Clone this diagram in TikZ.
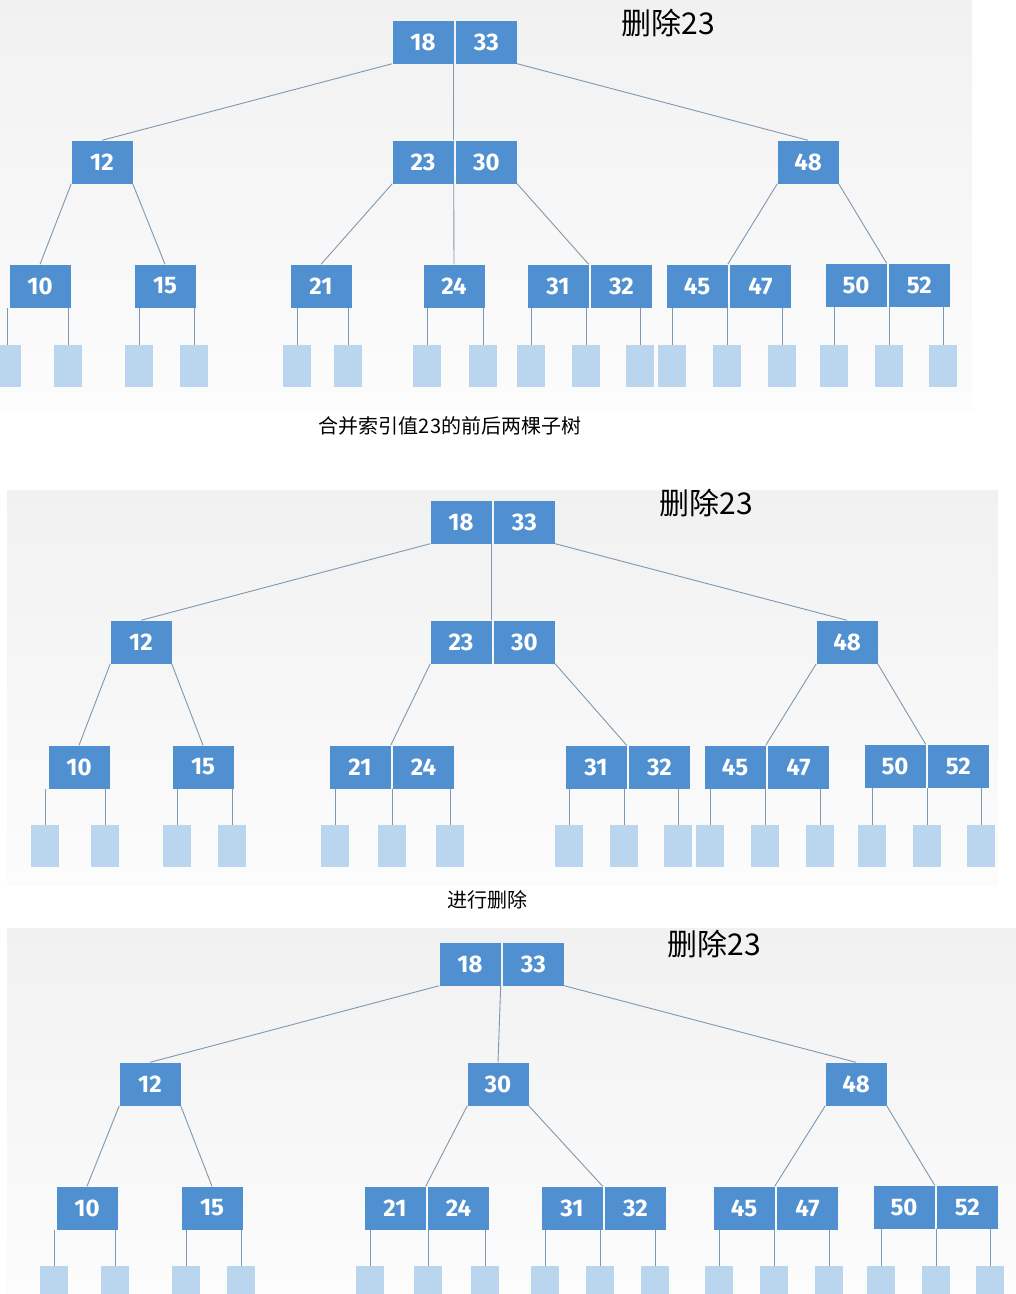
\documentclass[tikz,border=0pt]{standalone}
\usepackage{fontspec}
\setmainfont{Carlito}
\newfontfamily\cjk{Noto Sans CJK SC}
\newfontfamily\keyfont{Fira Sans}
\usepackage{xcolor}
\usepackage{tikz}
\usetikzlibrary{positioning}

\definecolor{keyblue}{RGB}{80,144,208}
\definecolor{leafblue}{RGB}{186,213,238}
\definecolor{linkgray}{RGB}{125,152,176}
\definecolor{paneltop}{RGB}{241,241,241}
\definecolor{panelbot}{RGB}{252,252,252}

\begin{document}
\begin{tikzpicture}[x=1pt,y=-1pt,
		keybox/.style={fill=keyblue,text=white,font=\keyfont\fontsize{24}{24}\bfseries,
			minimum width=61pt,minimum height=43pt,inner sep=0pt},
		leafbox/.style={fill=leafblue,minimum width=28pt,minimum height=42pt,inner sep=0pt},
		link/.style={draw=linkgray,line width=0.9pt},
		title/.style={font=\cjk\fontsize{30}{30}\selectfont},
		note/.style={font=\cjk\fontsize{20}{20}\selectfont}]
		\useasboundingbox (0,0) rectangle (1016,1294);
		\clip (0,0) rectangle (1016,1294);
		\fill[white] (0,0) rectangle (1016,1294);
		% the three panels
		\shade[top color=paneltop,bottom color=panelbot] (0,0) rectangle (972,410);
		\shade[top color=paneltop,bottom color=panelbot] (7,490) rectangle (998,885);
		\shade[top color=paneltop,bottom color=panelbot] (7,928) rectangle (1016,1294);
		\node[title] (t1) at (668,23) {删除23};
		\node[title] (t2) at (706,503) {删除23};
		\node[title] (t3) at (714,944) {删除23};
		\node[note] (n1) at (450,426) {合并索引值23的前后两棵子树};
		\node[note] (n2) at (487,900) {进行删除};

		% panel 1
		\node[keybox] (a18) at (423,42) {18};
		\node[keybox,right=2pt of a18] (a33) {33};
		\node[keybox] (a12) at (102,162) {12};
		\node[keybox] (a23) at (423,162) {23};
		\node[keybox,right=2pt of a23] (a30) {30};
		\node[keybox] (a48) at (808,162) {48};
		\node[keybox] (a10) at (40,286) {10};
		\node[keybox] (a15) at (165,286) {15};
		\node[keybox] (a21) at (321,286) {21};
		\node[keybox] (a24) at (454,286) {24};
		\node[keybox] (a31) at (558,286) {31};
		\node[keybox,right=2pt of a31] (a32) {32};
		\node[keybox] (a45) at (697,286) {45};
		\node[keybox,right=2pt of a45] (a47) {47};
		\node[keybox] (a50) at (856,285) {50};
		\node[keybox,right=2pt of a50] (a52) {52};
		\draw[link] (a18.south west) -- (a12.north);
		\draw[link] (a18.south east) -- (a23.north east);
		\draw[link] (a33.south east) -- (a48.north);
		\draw[link] (a12.south west) -- (a10.north);
		\draw[link] (a12.south east) -- (a15.north);
		\draw[link] (a23.south west) -- (a21.north);
		\draw[link] (a23.south east) -- (a24.north);
		\draw[link] (a30.south east) -- (a31.north east);
		\draw[link] (a48.south west) -- (a45.north east);
		\draw[link] (a48.south east) -- (a50.north east);
		\foreach \n/\x/\p in {pa1/7/a10,pa2/68/a10,pa3/139/a15,pa4/194/a15,
			pa5/297/a21,pa6/348/a21,pa7/427/a24,pa8/483/a24,
			pa9/531/a31,pa10/586/a31,pa11/640/a32,
			pa12/672/a45,pa13/727/a45,pa14/782/a47,
			pa15/834/a50,pa16/889/a50,pa17/943/a52} {
			\node[leafbox] (\n) at (\x,366) {};
			\draw[link] (\n.north |- \p.south) -- (\n.north);
		}

		% panel 2
		\node[keybox] (b18) at (461,522) {18};
		\node[keybox,right=2pt of b18] (b33) {33};
		\node[keybox] (b12) at (141,642) {12};
		\node[keybox] (b23) at (461,642) {23};
		\node[keybox,right=2pt of b23] (b30) {30};
		\node[keybox] (b48) at (847,642) {48};
		\node[keybox] (b10) at (79,767) {10};
		\node[keybox] (b15) at (203,767) {15};
		\node[keybox] (b21) at (360,767) {21};
		\node[keybox,right=2pt of b21] (b24) {24};
		\node[keybox] (b31) at (596,767) {31};
		\node[keybox,right=2pt of b31] (b32) {32};
		\node[keybox] (b45) at (735,767) {45};
		\node[keybox,right=2pt of b45] (b47) {47};
		\node[keybox] (b50) at (895,766) {50};
		\node[keybox,right=2pt of b50] (b52) {52};
		\draw[link] (b18.south west) -- (b12.north);
		\draw[link] (b18.south east) -- (b23.north east);
		\draw[link] (b33.south east) -- (b48.north);
		\draw[link] (b12.south west) -- (b10.north);
		\draw[link] (b12.south east) -- (b15.north);
		\draw[link] (b23.south west) -- (b21.north east);
		\draw[link] (b30.south east) -- (b31.north east);
		\draw[link] (b48.south west) -- (b45.north east);
		\draw[link] (b48.south east) -- (b50.north east);
		\foreach \n/\x/\p in {pb1/45/b10,pb2/105/b10,pb3/177/b15,pb4/232/b15,
			pb5/335/b21,pb6/392/b21,pb7/450/b24,
			pb8/569/b31,pb9/624/b31,pb10/678/b32,
			pb11/710/b45,pb12/765/b45,pb13/820/b47,
			pb14/872/b50,pb15/927/b50,pb16/981/b52} {
			\node[leafbox] (\n) at (\x,846) {};
			\draw[link] (\n.north |- \p.south) -- (\n.north);
		}

		% panel 3
		\node[keybox] (c18) at (470,964) {18};
		\node[keybox,right=2pt of c18] (c33) {33};
		\node[keybox] (c12) at (150,1084) {12};
		\node[keybox] (c30) at (498,1084) {30};
		\node[keybox] (c48) at (856,1084) {48};
		\node[keybox] (c10) at (87,1208) {10};
		\node[keybox] (c15) at (212,1208) {15};
		\node[keybox] (c21) at (395,1208) {21};
		\node[keybox,right=2pt of c21] (c24) {24};
		\node[keybox] (c31) at (572,1208) {31};
		\node[keybox,right=2pt of c31] (c32) {32};
		\node[keybox] (c45) at (744,1208) {45};
		\node[keybox,right=2pt of c45] (c47) {47};
		\node[keybox] (c50) at (904,1207) {50};
		\node[keybox,right=2pt of c50] (c52) {52};
		\draw[link] (c18.south west) -- (c12.north);
		\draw[link] (c18.south east) -- (c30.north);
		\draw[link] (c33.south east) -- (c48.north);
		\draw[link] (c12.south west) -- (c10.north);
		\draw[link] (c12.south east) -- (c15.north);
		\draw[link] (c30.south west) -- (c21.north east);
		\draw[link] (c30.south east) -- (c31.north east);
		\draw[link] (c48.south west) -- (c45.north east);
		\draw[link] (c48.south east) -- (c50.north east);
		\foreach \n/\x/\p in {pc1/54/c10,pc2/115/c10,pc3/186/c15,pc4/241/c15,
			pc5/370/c21,pc6/428/c21,pc7/485/c24,
			pc8/545/c31,pc9/600/c31,pc10/655/c32,
			pc11/719/c45,pc12/774/c45,pc13/829/c47,
			pc14/881/c50,pc15/936/c50,pc16/990/c52} {
			\node[leafbox] (\n) at (\x,1287) {};
			\draw[link] (\n.north |- \p.south) -- (\n.north);
		}
	\end{tikzpicture}
\end{document}
